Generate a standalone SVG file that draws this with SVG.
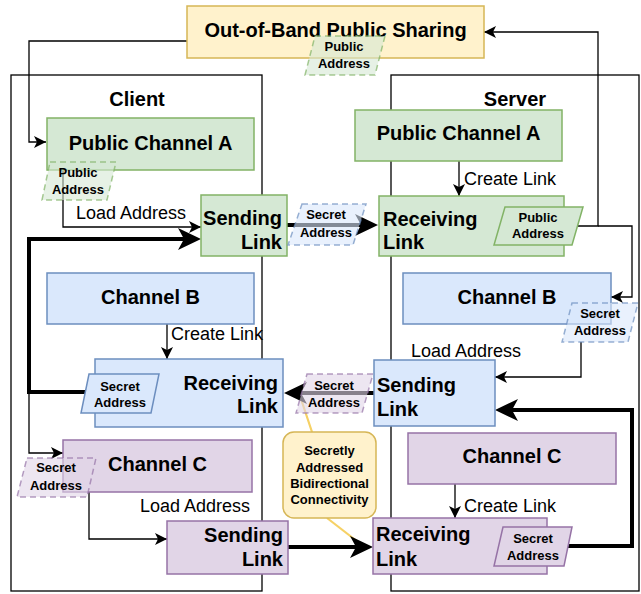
<svg xmlns="http://www.w3.org/2000/svg" width="641" height="594" viewBox="0 0 641 594">
<defs>
<style>
text{font-family:"Liberation Sans",Arial,Helvetica,sans-serif;fill:#000}
.t{font-size:20px;font-weight:bold}
.lbl{font-size:18px}
.s{font-size:13px;font-weight:bold}
.m{text-anchor:middle}
.e{text-anchor:end}
.green{fill:#d5e8d4;stroke:#82b366;stroke-width:1.5}
.blue{fill:#dae8fc;stroke:#6c8ebf;stroke-width:1.5}
.purple{fill:#e1d5e7;stroke:#9673a6;stroke-width:1.5}
.yellow{fill:#fff2cc;stroke:#d6b656;stroke-width:1.5}
.ghost{fill-opacity:0.6;stroke-opacity:0.7;stroke-dasharray:6 4}
.container{fill:none;stroke:#000;stroke-width:1.3}
.c{fill:none;stroke:#000;stroke-width:1.3;marker-end:url(#a)}
.thick{fill:none;stroke:#000;stroke-width:4;marker-end:url(#A)}
.callout{fill:none;stroke:#f6d165;stroke-width:2.2}
</style>
<marker id="a" markerUnits="userSpaceOnUse" markerWidth="13" markerHeight="12" viewBox="0 0 13 12" refX="12" refY="6" orient="auto">
<path d="M0,0 L12,6 L0,12 L3,6 Z" fill="#000"/>
</marker>
<marker id="A" markerUnits="userSpaceOnUse" markerWidth="24" markerHeight="22" viewBox="0 0 24 22" refX="15" refY="11" orient="auto">
<path d="M0,0 L23,11 L0,22 L6,11 Z" fill="#000"/>
</marker>
</defs>
<rect width="641" height="594" fill="#fff"/>

<g id="containers">
<g id="client-box"><rect class="container" x="11" y="75" width="251" height="516"/><text class="t m" x="137" y="106">Client</text></g>
<g id="server-box"><rect class="container" x="391" y="75" width="248" height="516"/><text class="t m" x="515" y="106">Server</text></g>
</g>

<g id="callout-pointers">
<path class="callout" d="M312,432 L300,396"/>
<path class="callout" d="M327,518 L358,542"/>
</g>

<g id="connectors">
<path class="c" d="M187,41 H29 V142 H46"/>
<path class="c" d="M63,170 V227 H201"/>
<path class="c" d="M29,392 V453 H63"/>
<path class="c" d="M167,324 V359"/>
<path class="c" d="M89,492 V539 H167"/>
<path class="c" d="M459,161 V196"/>
<path class="c" d="M575,226 H598 V32 H484"/>
<path class="c" d="M598,226 H632 V297 H611"/>
<path class="c" d="M581,342 V377 H495"/>
<path class="c" d="M455,484 V518"/>
<path class="thick" d="M85,392 H29 V239 H193"/>
<path class="thick" d="M287,225 H370"/>
<path class="thick" d="M374,393 H292"/>
<path class="thick" d="M288,547 H365"/>
<path class="thick" d="M566,546 H632 V410 H503"/>
</g>

<g id="oob">
<rect class="yellow" x="187" y="6" width="297" height="52"/>
<text class="t m" x="335.5" y="37">Out-of-Band Public Sharing</text>
</g>

<g id="client-public-channel-a">
<rect class="green" x="47" y="118" width="207" height="52"/>
<text class="t m" x="150.5" y="150">Public Channel A</text>
</g>
<g id="client-sending-link-a">
<rect class="green" x="201" y="195" width="86" height="61"/>
<text class="t e" x="282" y="225">Sending</text>
<text class="t e" x="282" y="249">Link</text>
</g>
<g id="client-channel-b">
<rect class="blue" x="47" y="273" width="207" height="51"/>
<text class="t m" x="150.5" y="304">Channel B</text>
</g>
<g id="client-receiving-link-b">
<rect class="blue" x="95" y="359" width="188" height="68"/>
<text class="t e" x="278" y="390">Receiving</text>
<text class="t e" x="278" y="413">Link</text>
<polygon class="blue" points="89,374 159,374 151,413 81,413"/>
<text class="s m" x="120" y="391">Secret</text>
<text class="s m" x="120" y="407">Address</text>
</g>
<g id="client-channel-c">
<rect class="purple" x="63" y="440" width="189" height="52"/>
<text class="t m" x="157.5" y="471">Channel C</text>
</g>
<g id="client-sending-link-c">
<rect class="purple" x="167" y="521" width="121" height="53"/>
<text class="t e" x="283" y="542">Sending</text>
<text class="t e" x="283" y="566">Link</text>
</g>

<g id="server-public-channel-a">
<rect class="green" x="355" y="110" width="207" height="51"/>
<text class="t m" x="458.5" y="140">Public Channel A</text>
</g>
<g id="server-receiving-link-a">
<rect class="green" x="379" y="196" width="185" height="60"/>
<text class="t" x="383" y="226">Receiving</text>
<text class="t" x="383" y="249">Link</text>
<polygon class="green" points="505,207 583,207 572,245 494,245"/>
<text class="s m" x="538" y="222">Public</text>
<text class="s m" x="538" y="238">Address</text>
</g>
<g id="server-channel-b">
<rect class="blue" x="403" y="273" width="208" height="51"/>
<text class="t m" x="507" y="304">Channel B</text>
</g>
<g id="server-sending-link-b">
<rect class="blue" x="374" y="360" width="121" height="66"/>
<text class="t" x="377" y="392">Sending</text>
<text class="t" x="377" y="416">Link</text>
</g>
<g id="server-channel-c">
<rect class="purple" x="408" y="433" width="208" height="51"/>
<text class="t m" x="512" y="463">Channel C</text>
</g>
<g id="server-receiving-link-c">
<rect class="purple" x="373" y="518" width="174" height="56"/>
<text class="t" x="376" y="541">Receiving</text>
<text class="t" x="376" y="566">Link</text>
<polygon class="purple" points="503,527 572,527 564,566 494,566"/>
<text class="s m" x="533" y="543">Secret</text>
<text class="s m" x="533" y="560">Address</text>
</g>

<g id="callout">
<rect class="yellow" x="283" y="432" width="93" height="86" rx="11"/>
<text class="s m" x="329.5" y="455">Secretly</text>
<text class="s m" x="329.5" y="472">Addressed</text>
<text class="s m" x="329.5" y="488">Bidirectional</text>
<text class="s m" x="329.5" y="504">Connectivity</text>
</g>

<g id="address-labels">
<g id="oob-public-address"><polygon class="green ghost" points="315,36 385,36 375,75 305,75"/><text class="s m" x="344" y="51">Public</text><text class="s m" x="344" y="68">Address</text></g>
<g id="client-public-address"><polygon class="green ghost" points="50,162 116,162 107,200 42,200"/><text class="s m" x="78" y="177">Public</text><text class="s m" x="78" y="194">Address</text></g>
<g id="secret-address-a"><polygon class="blue ghost" points="302,204 366,204 353,245 288,245"/><text class="s m" x="326" y="219">Secret</text><text class="s m" x="326" y="237">Address</text></g>
<g id="server-secret-address-b"><polygon class="blue ghost" points="572,303 638,303 628,342 562,342"/><text class="s m" x="600" y="318">Secret</text><text class="s m" x="600" y="335">Address</text></g>
<g id="secret-address-b"><polygon class="purple ghost" points="307,374 373,374 362,413 296,413"/><text class="s m" x="334" y="390">Secret</text><text class="s m" x="334" y="407">Address</text></g>
<g id="client-secret-address-c"><polygon class="purple ghost" points="27,458 96,458 87,497 17,497"/><text class="s m" x="56" y="472">Secret</text><text class="s m" x="56" y="490">Address</text></g>
</g>

<g id="edge-labels">
<text class="lbl" x="76" y="219">Load Address</text>
<text class="lbl" x="171" y="340">Create Link</text>
<text class="lbl e" x="250" y="512">Load Address</text>
<text class="lbl" x="464" y="185">Create Link</text>
<text class="lbl" x="411" y="357">Load Address</text>
<text class="lbl" x="464" y="512">Create Link</text>
</g>
</svg>
